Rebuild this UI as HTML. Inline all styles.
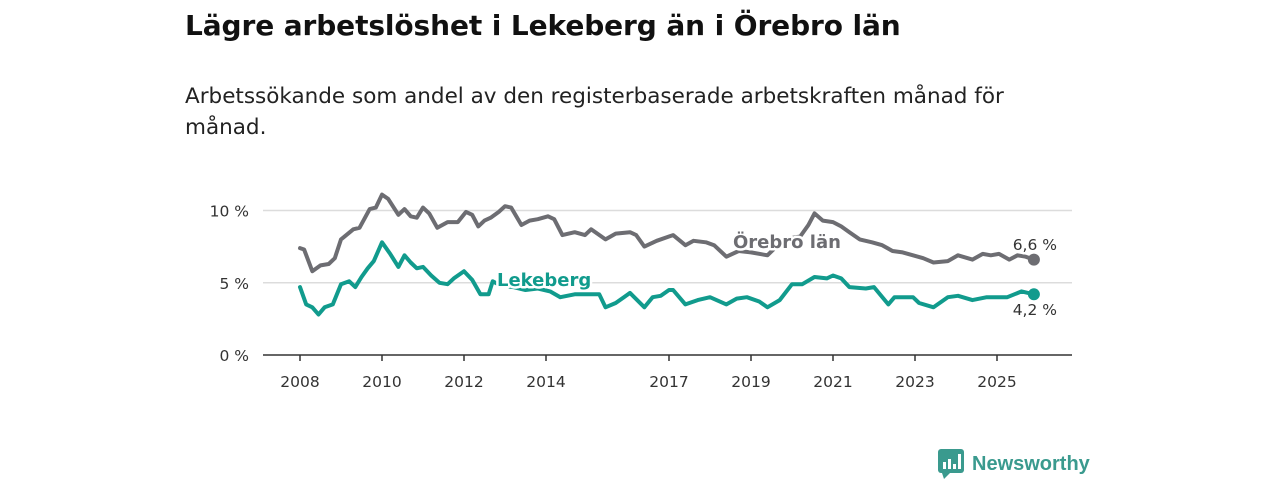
<!DOCTYPE html>
<html><head><meta charset="utf-8"><style>
body{margin:0;width:1280px;height:480px;background:#fff;font-family:"DejaVu Sans","Liberation Sans",sans-serif;overflow:hidden;position:relative}
h1{position:absolute;left:185px;top:9px;margin:0;font-size:28px;font-weight:bold;color:#111;letter-spacing:-0.1px}
p.sub{position:absolute;left:185px;top:81px;margin:0;font-size:21.5px;line-height:31px;color:#222;width:880px}
svg{position:absolute;left:0;top:0}
.logo{position:absolute;left:938px;top:449px;display:flex;align-items:center;gap:8px;color:#3a9a8e;font-size:20px;font-weight:bold;font-family:"Liberation Sans",sans-serif}
</style></head><body>
<h1>Lägre arbetslöshet i Lekeberg än i Örebro län</h1>
<p class="sub">Arbetssökande som andel av den registerbaserade arbetskraften månad för månad.</p>
<svg id="chart" width="1280" height="480"></svg>
<div class="logo">
<svg width="26" height="30" style="position:static"><rect x="0" y="0" width="26" height="24" rx="3" fill="#3a9a8e"/><polygon points="4,24 12,24 6,30" fill="#3a9a8e"/><rect x="5" y="13" width="3" height="7" fill="#fff"/><rect x="10" y="10" width="3" height="10" fill="#fff"/><rect x="15" y="15" width="3" height="5" fill="#fff"/><rect x="20" y="5" width="3" height="15" fill="#fff"/></svg>
<span>Newsworthy</span></div>
<script>
const yTicks=[0,5,10];
const yTickLabels=["0 %","5 %","10 %"];
const xTicks=[2008,2010,2012,2014,2017,2019,2021,2023,2025];
const orebroT=[2008.0,2008.1,2008.3,2008.5,2008.7,2008.85,2009.0,2009.3,2009.45,2009.7,2009.85,2010.0,2010.15,2010.4,2010.55,2010.7,2010.85,2011.0,2011.15,2011.35,2011.6,2011.85,2012.05,2012.2,2012.35,2012.5,2012.65,2012.85,2013.0,2013.15,2013.4,2013.6,2013.8,2014.05,2014.2,2014.4,2014.7,2014.95,2015.1,2015.45,2015.7,2016.05,2016.2,2016.4,2016.7,2017.0,2017.1,2017.4,2017.6,2017.9,2018.1,2018.4,2018.7,2019.0,2019.4,2019.8,2020.2,2020.4,2020.55,2020.75,2021.0,2021.2,2021.4,2021.65,2021.95,2022.2,2022.45,2022.7,2022.95,2023.2,2023.45,2023.8,2024.05,2024.4,2024.65,2024.85,2025.05,2025.3,2025.5,2025.7,2025.9];
const orebroV=[7.4,7.3,5.8,6.2,6.3,6.7,8.0,8.7,8.8,10.1,10.2,11.1,10.8,9.7,10.1,9.6,9.5,10.2,9.8,8.8,9.2,9.2,9.9,9.7,8.9,9.3,9.5,9.9,10.3,10.2,9.0,9.3,9.4,9.6,9.4,8.3,8.5,8.3,8.7,8.0,8.4,8.5,8.3,7.5,7.9,8.2,8.3,7.6,7.9,7.8,7.6,6.8,7.2,7.1,6.9,8.0,8.2,9.0,9.8,9.3,9.2,8.9,8.5,8.0,7.8,7.6,7.2,7.1,6.9,6.7,6.4,6.5,6.9,6.6,7.0,6.9,7.0,6.6,6.9,6.8,6.6];
const lekeT=[2008.0,2008.15,2008.3,2008.45,2008.6,2008.8,2009.0,2009.2,2009.35,2009.5,2009.65,2009.8,2010.0,2010.2,2010.4,2010.55,2010.7,2010.85,2011.0,2011.2,2011.4,2011.6,2011.75,2012.0,2012.2,2012.4,2012.6,2012.7,2012.9,2013.2,2013.5,2013.8,2014.1,2014.35,2014.7,2014.95,2015.3,2015.45,2015.7,2015.9,2016.05,2016.4,2016.6,2016.8,2017.0,2017.1,2017.4,2017.7,2018.0,2018.4,2018.65,2018.9,2019.2,2019.4,2019.7,2020.0,2020.25,2020.55,2020.85,2021.0,2021.2,2021.4,2021.8,2022.0,2022.35,2022.5,2022.95,2023.1,2023.45,2023.8,2024.05,2024.4,2024.75,2025.25,2025.6,2025.9];
const lekeV=[4.7,3.5,3.3,2.8,3.3,3.5,4.9,5.1,4.7,5.4,6.0,6.5,7.8,7.0,6.1,6.9,6.4,6.0,6.1,5.5,5.0,4.9,5.3,5.8,5.2,4.2,4.2,5.1,4.8,4.7,4.5,4.6,4.4,4.0,4.2,4.2,4.2,3.3,3.6,4.0,4.3,3.3,4.0,4.1,4.5,4.5,3.5,3.8,4.0,3.5,3.9,4.0,3.7,3.3,3.8,4.9,4.9,5.4,5.3,5.5,5.3,4.7,4.6,4.7,3.5,4.0,4.0,3.6,3.3,4.0,4.1,3.8,4.0,4.0,4.4,4.2];
const NS="http://www.w3.org/2000/svg";
const svg=document.getElementById('chart');
const x=t=>300+(t-2008)*41;
const y=v=>355-v*14.45;
function el(tag,attrs,parent){const e=document.createElementNS(NS,tag);for(const k in attrs)e.setAttribute(k,attrs[k]);(parent||svg).appendChild(e);return e;}
yTicks.forEach((v,i)=>{
 if(v>0){const g=el('line',{x1:263,x2:1072,y1:y(v),y2:y(v),stroke:'#dcdcdc','stroke-width':1.5});
 
 }
 const t=el('text',{x:249,y:y(v)+6,'text-anchor':'end','font-size':15.5,fill:'#333'});t.textContent=yTickLabels[i];
 
 
});
const ax=el('line',{x1:263,x2:1072,y1:y(0),y2:y(0),stroke:'#333','stroke-width':1.5});


xTicks.forEach(yr=>{
 el('line',{x1:x(yr),x2:x(yr),y1:y(0),y2:y(0)+6,stroke:'#333','stroke-width':1.5});
 const t=el('text',{x:x(yr),y:387,'text-anchor':'middle','font-size':15.5,fill:'#333'});t.textContent=yr;
 
 
});
function line(T,V,color,name){
 const d=T.map((t,i)=>(i?'L':'M')+x(t).toFixed(1)+','+y(V[i]).toFixed(1)).join('');
 const p=el('path',{d:d,fill:'none',stroke:color,'stroke-width':4,'stroke-linejoin':'round','stroke-linecap':'round'});
 
 
 const n=T.length-1;
 const c=el('circle',{cx:x(T[n]),cy:y(V[n]),r:6,fill:color});
 
 
}
line(orebroT,orebroV,'#6d6d72','orebro-line');
line(lekeT,lekeV,'#119b8d','lekeberg-line');
function label(txt,px,py,color,size,bold,name,anchor){
 const t=el('text',{x:px,y:py,'font-size':size,fill:color,'font-weight':bold?'bold':'normal',stroke:'#fff','stroke-width':5,'paint-order':'stroke','stroke-linejoin':'round','text-anchor':anchor||'start'});
 t.textContent=txt;
 
 
}
label('Örebro län',733,248,'#6d6d72',18,true,'orebro-label');
label('Lekeberg',497,286,'#119b8d',18,true,'lekeberg-label');
label('6,6 %',1057,250,'#333',15.5,false,'orebro-end-value','end');
label('4,2 %',1057,315,'#333',15.5,false,'lekeberg-end-value','end');
</script>
</body></html>
